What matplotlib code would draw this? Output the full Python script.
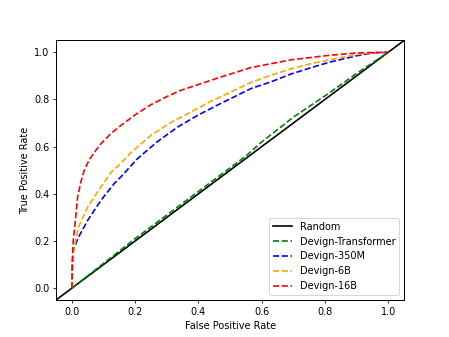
import matplotlib
matplotlib.use("Agg")
import matplotlib.pyplot as plt

# ROC curves
fpr_transformer = [0, 0.1, 0.2, 0.3, 0.4, 0.5, 0.55, 0.6, 0.667, 0.7, 0.8, 0.9, 0.95, 1.0]
tpr_transformer = [0, 0.105, 0.21, 0.31, 0.41, 0.51, 0.56, 0.62, 0.69, 0.725, 0.815, 0.91, 0.955, 1.0]

fpr_350m = [0, 0.001, 0.003, 0.008, 0.021, 0.05, 0.092, 0.134, 0.155, 0.208, 0.271, 0.334,
            0.398, 0.466, 0.566, 0.63, 0.693, 0.75, 0.814, 0.9, 0.95, 1.0]
tpr_350m = [0, 0.08, 0.15, 0.175, 0.217, 0.288, 0.373, 0.444, 0.472, 0.55, 0.622, 0.683,
            0.733, 0.78, 0.846, 0.875, 0.908, 0.932, 0.958, 0.985, 0.997, 1.0]

fpr_6b = [0, 0.001, 0.004, 0.01, 0.021, 0.05, 0.092, 0.123, 0.155, 0.187, 0.25, 0.313,
          0.377, 0.44, 0.5, 0.566, 0.63, 0.693, 0.75, 0.814, 0.9, 0.95, 1.0]
tpr_6b = [0, 0.08, 0.15, 0.19, 0.26, 0.345, 0.43, 0.49, 0.53, 0.575, 0.648, 0.703,
          0.747, 0.793, 0.83, 0.872, 0.903, 0.93, 0.95, 0.968, 0.99, 0.998, 1.0]

fpr_16b = [0, 0.001, 0.004, 0.01, 0.018, 0.028, 0.039, 0.055, 0.076, 0.092, 0.123, 0.155,
           0.2, 0.25, 0.3, 0.345, 0.408, 0.466, 0.566, 0.693, 0.814, 0.9, 1.0]
tpr_16b = [0, 0.1, 0.2, 0.274, 0.387, 0.45, 0.50, 0.545, 0.585, 0.613, 0.655, 0.69,
           0.735, 0.778, 0.812, 0.839, 0.867, 0.893, 0.935, 0.968, 0.987, 0.997, 1.0]

plt.rcParams["lines.linewidth"] = 1.7
plt.rcParams["axes.linewidth"] = 1.0

fig, ax = plt.subplots(figsize=(449 / 70, 337 / 70), dpi=70)
ax.axline((0, 0), (1, 1), color="black", label="Random")
ax.plot(fpr_transformer, tpr_transformer, "--", color="green", label="Devign-Transformer")
ax.plot(fpr_350m, tpr_350m, "--", color="blue", label="Devign-350M")
ax.plot(fpr_6b, tpr_6b, "--", color="orange", label="Devign-6B")
ax.plot(fpr_16b, tpr_16b, "--", color="red", label="Devign-16B")
ax.set_xlabel("False Positive Rate")
ax.set_ylabel("True Positive Rate")
ax.legend(loc="lower right")
fig.savefig("out.png", dpi=70)
